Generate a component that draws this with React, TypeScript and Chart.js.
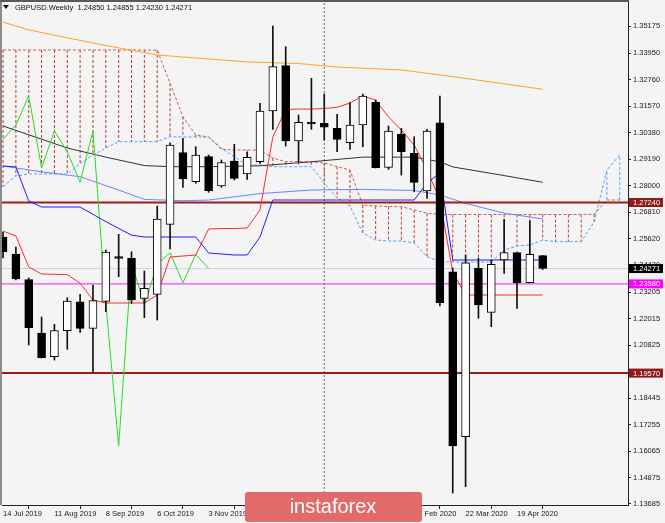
import React, { useEffect, useRef } from 'react';
import { Chart, registerables } from 'chart.js';

Chart.register(...registerables);

const TITLE = 'GBPUSD.Weekly  1.24850 1.24855 1.24230 1.24271';
const LOGO_TEXT = 'instaforex';

const xTickIdx = [0, 4, 8, 12, 16, 20, 24, 28, 32, 36, 40];
const xTickLabels = ['14 Jul 2019', '11 Aug 2019', '8 Sep 2019', '6 Oct 2019', '3 Nov 2019', '1 Dec 2019', '29 Dec 2019', '26 Jan 2020', '23 Feb 2020', '22 Mar 2020', '19 Apr 2020'];
const yTickLabels = ['1.35175', '1.33950', '1.32760', '1.31570', '1.30380', '1.29190', '1.28000', '1.26810', '1.25620', '1.24430', '1.23205', '1.22015', '1.20825', '1.19635', '1.18445', '1.17255', '1.16065', '1.14875', '1.13685'];

const opens = [1.25688, 1.24924, 1.23778, 1.21372, 1.20307, 1.21476, 1.22779, 1.21584, 1.22797, 1.24744, 1.24731, 1.22932, 1.23112, 1.26259, 1.29479, 1.28175, 1.29299, 1.27981, 1.29105, 1.28521, 1.29074, 1.31353, 1.33390, 1.30005, 1.30845, 1.30800, 1.30575, 1.29928, 1.30724, 1.31745, 1.28822, 1.30319, 1.29452, 1.27757, 1.30827, 1.24128, 1.16710, 1.24281, 1.22303, 1.24654, 1.24983, 1.23634, 1.24850];
const highs = [1.25913, 1.25239, 1.23845, 1.22092, 1.21763, 1.22959, 1.23112, 1.23530, 1.25104, 1.25810, 1.25028, 1.24160, 1.27082, 1.29928, 1.30126, 1.29748, 1.29375, 1.29150, 1.29856, 1.29497, 1.31700, 1.35175, 1.34244, 1.31174, 1.32824, 1.32118, 1.31205, 1.31727, 1.32118, 1.31848, 1.30679, 1.30575, 1.30198, 1.30531, 1.32028, 1.24295, 1.24879, 1.24731, 1.24654, 1.26484, 1.25014, 1.26421, 1.24855];
const lows = [1.24744, 1.23755, 1.20833, 1.20249, 1.20158, 1.20639, 1.21404, 1.19605, 1.22330, 1.23904, 1.22708, 1.22060, 1.21957, 1.25149, 1.27923, 1.28103, 1.27698, 1.27923, 1.28251, 1.28283, 1.29002, 1.30531, 1.29780, 1.29074, 1.30531, 1.30050, 1.29524, 1.29631, 1.29748, 1.28791, 1.28732, 1.28476, 1.27725, 1.27428, 1.22586, 1.14179, 1.14462, 1.22033, 1.21655, 1.24056, 1.22483, 1.23620, 1.24230];
const closes = [1.25014, 1.23800, 1.21611, 1.20262, 1.21476, 1.22811, 1.21584, 1.22825, 1.25014, 1.24722, 1.22856, 1.23382, 1.26498, 1.29825, 1.28296, 1.29375, 1.27770, 1.29029, 1.28328, 1.29272, 1.31353, 1.33345, 1.30005, 1.30845, 1.30769, 1.30621, 1.30081, 1.30724, 1.32028, 1.28804, 1.30454, 1.29524, 1.28148, 1.30454, 1.22735, 1.16292, 1.24533, 1.22631, 1.24461, 1.24983, 1.23634, 1.24911, 1.24271];

const tenkan = [1.25958, 1.25733, 1.24340, 1.24025, 1.24010, 1.23996, 1.23610, 1.22856, 1.22721, 1.22721, 1.22721, 1.22721, 1.23081, 1.24789, 1.24834, 1.24879, 1.26048, 1.26070, 1.26070, 1.26093, 1.26902, 1.30185, 1.31421, 1.31440, 1.31440, 1.31466, 1.31520, 1.31713, 1.32028, 1.31848, 1.31084, 1.30499, 1.29825, 1.28701, 1.27352, 1.24115, 1.23081, 1.23081, 1.23081, 1.23081, 1.23081, 1.23081, 1.23081];
const kijun = [1.28881, 1.28836, 1.27307, 1.27037, 1.27037, 1.27037, 1.27037, 1.26709, 1.26381, 1.26075, 1.25770, 1.25689, 1.25689, 1.25689, 1.25689, 1.25689, 1.24970, 1.24925, 1.24880, 1.24880, 1.25689, 1.27352, 1.27352, 1.27352, 1.27352, 1.27352, 1.27352, 1.27352, 1.27352, 1.27352, 1.27352, 1.27352, 1.27352, 1.28117, 1.28566, 1.24655, 1.24655, 1.24655, 1.24655, 1.24655, 1.24655, 1.24655, 1.24655];
// cloud boundaries (shifted 26 weeks ahead, up to index 48)
const senkouA = [1.27950, 1.28431, 1.28521, 1.28521, 1.28521, 1.28521, 1.29002, 1.29375, 1.29690, 1.29973, 1.29973, 1.29973, 1.29973, 1.30198, 1.30185, 1.30185, 1.30185, 1.29677, 1.29299, 1.28926, 1.28926, 1.28849, 1.28849, 1.28849, 1.28849, 1.28117, 1.27442, 1.27083, 1.25869, 1.25554, 1.25509, 1.25509, 1.25419, 1.24803, 1.24578, 1.24565, 1.24565, 1.24565, 1.24565, 1.25104, 1.25284, 1.25329, 1.25554, 1.25478, 1.25478, 1.25478, 1.26363, 1.28701, 1.29375];
const senkouB = [1.34096, 1.34096, 1.34096, 1.34096, 1.34096, 1.34096, 1.34096, 1.34096, 1.34096, 1.34096, 1.34096, 1.34096, 1.34096, 1.32599, 1.31097, 1.30275, 1.30185, 1.29632, 1.29600, 1.29600, 1.29600, 1.29241, 1.29074, 1.29074, 1.29074, 1.29016, 1.28849, 1.28701, 1.27128, 1.27083, 1.27060, 1.27051, 1.26903, 1.26754, 1.26700, 1.26700, 1.26700, 1.26700, 1.26700, 1.26700, 1.26700, 1.26700, 1.26700, 1.26700, 1.26700, 1.26700, 1.26709, 1.27352, 1.27352];
const chikouShift = 26;

// moving averages: [week index, value]
const maFast = [[0, 1.2888], [3, 1.2862], [6, 1.2840], [9, 1.2780], [11, 1.2738], [14, 1.2732], [16, 1.2735], [20, 1.2764], [24, 1.2780], [28, 1.2783], [32, 1.2778], [34, 1.2758], [36, 1.2720], [39, 1.2676], [42, 1.2650]];
const maMid = [[0, 1.3068], [5, 1.2969], [8, 1.2928], [11, 1.2890], [13, 1.2885], [16, 1.2885], [20, 1.2889], [24, 1.2907], [28, 1.2928], [32, 1.2928], [34, 1.2907], [35, 1.2884], [39, 1.2845], [42, 1.2815]];
const maSlow = [[0, 1.3535], [2, 1.3500], [7, 1.3441], [12, 1.3387], [19, 1.3356], [23, 1.3349], [26, 1.3333], [31, 1.3320], [35, 1.3290], [42, 1.3233]];

const levelUpper = 1.2724;
const levelLower = 1.1957;
const levelMagenta = 1.2358;
const bidPrice = 1.24271;
const separatorIdx = 25;

const X_MIN = -0.08;
const X_MAX = 48.64;
const Y_MIN = 1.1364;
const Y_MAX = 1.36254;

const FONT = '"Liberation Sans", Arial, sans-serif';

const priceBoxes = [
  { value: levelUpper, bg: '#8e1a1a', fg: '#ffffff' },
  { value: bidPrice, bg: '#000000', fg: '#ffffff' },
  { value: levelMagenta, bg: '#ff00ff', fg: '#ffffff' },
  { value: levelLower, bg: '#8e1a1a', fg: '#ffffff' },
];

const line = (data: any[], color: string, width = 1, dash: number[] = [], order = 5) => ({
  type: 'line',
  data,
  borderColor: color,
  borderWidth: width,
  borderDash: dash,
  pointRadius: 0,
  fill: false,
  tension: 0,
  spanGaps: false,
  order,
});

const hLine = (v: number, color: string, width: number, order = 6) =>
  line([{ x: -1, y: v }, { x: 50, y: v }], color, width, [], order);

const overlayPlugin = {
  id: 'mtOverlay',
  beforeDraw(chart: any) {
    const { ctx, width, height } = chart;
    ctx.save();
    ctx.fillStyle = '#f4f4f4';
    ctx.fillRect(0, 0, width, height);
    ctx.restore();
  },
  afterDraw(chart: any) {
    const { ctx, chartArea: ca, scales } = chart;
    const y = scales.y;
    ctx.save();
    // frame
    ctx.fillStyle = '#8a8a8a';
    ctx.fillRect(0, 0, 2, ca.bottom);
    ctx.fillStyle = '#5a5a5a';
    ctx.fillRect(0, 0, ca.right + 1, 2);
    // title
    ctx.fillStyle = '#111';
    ctx.beginPath();
    ctx.moveTo(3, 5);
    ctx.lineTo(9, 5);
    ctx.lineTo(6, 9);
    ctx.closePath();
    ctx.fill();
    ctx.font = `7.5px ${FONT}`;
    ctx.textBaseline = 'middle';
    ctx.textAlign = 'left';
    ctx.fillText(TITLE, 15, 7.5);
    // price boxes
    for (const b of priceBoxes) {
      const py = y.getPixelForValue(b.value);
      ctx.fillStyle = b.bg;
      ctx.fillRect(ca.right + 1, py - 4.5, 34, 9);
      ctx.fillStyle = b.fg;
      ctx.fillText(b.value.toFixed(5), ca.right + 5, py + 0.5);
    }
    // logo
    ctx.fillStyle = '#e26a6a';
    ctx.beginPath();
    if ((ctx as any).roundRect) (ctx as any).roundRect(245, 492, 177, 30, 3);
    else ctx.rect(245, 492, 177, 30);
    ctx.fill();
    ctx.fillStyle = '#ffffff';
    ctx.font = `20px ${FONT}`;
    ctx.textAlign = 'center';
    ctx.textBaseline = 'alphabetic';
    ctx.fillText(LOGO_TEXT, 333, 513);
    ctx.restore();
  },
};

export default function App() {
  const ref = useRef<HTMLCanvasElement>(null);

  useEffect(() => {
    if (!ref.current) return;

    const hatchRed: any[] = [];
    const hatchBlue: any[] = [];
    senkouA.forEach((a, i) => {
      const b = senkouB[i];
      if (Math.abs(a - b) < 1e-6) return;
      const target = b > a ? hatchRed : hatchBlue;
      target.push({ x: i, y: b }, { x: i, y: a }, { x: i, y: null });
    });

    const toPts = (arr: number[]) => arr.map((v, i) => ({ x: i, y: v }));
    const pairPts = (arr: number[][]) => arr.map(([i, v]) => ({ x: i, y: v }));

    const datasets: any[] = [
      // candle bodies on top
      {
        type: 'bar',
        data: opens.map((o, i) => ({ x: i, y: [o, closes[i]] })),
        backgroundColor: opens.map((o, i) => (closes[i] >= o ? '#ffffff' : '#000000')),
        borderColor: '#000000',
        borderWidth: 1,
        borderSkipped: false,
        maxBarThickness: 8,
        barThickness: 8,
        minBarLength: 2,
        grouped: false,
        clip: 0,
        order: 1,
      },
      // wicks
      {
        type: 'bar',
        data: lows.map((l, i) => ({ x: i, y: [l, highs[i]] })),
        backgroundColor: '#111111',
        borderWidth: 0,
        maxBarThickness: 1,
        barThickness: 1,
        grouped: false,
        clip: 0,
        order: 2,
      },
      line(hatchRed, '#c23a3a', 1, [3, 2], 9),
      line(hatchBlue, '#55a8ff', 1, [3, 2], 9),
      line(toPts(senkouB), '#c46060', 1, [3, 2], 8),
      line(toPts(senkouA), '#4ea6ff', 1, [3, 2], 8),
      line(pairPts(maSlow), '#ffa51f', 1, [], 7),
      line(pairPts(maMid), '#333333', 1, [], 7),
      line(pairPts(maFast), '#6688ff', 1, [], 7),
      line(toPts(kijun), '#1f1fff', 1, [], 4),
      line(toPts(tenkan), '#ff2a2a', 1, [], 4),
      line(toPts(closes.slice(chikouShift)), '#22e022', 1, [], 4),
      hLine(bidPrice, '#cfd0e6', 1, 10),
      hLine(levelMagenta, '#ee22ee', 1, 6),
      hLine(levelUpper, '#9c1c1c', 2, 6),
      hLine(levelLower, '#9c1c1c', 2, 6),
      line([{ x: separatorIdx, y: Y_MIN }, { x: separatorIdx, y: Y_MAX }], '#666666', 1, [2, 2], 11),
    ];

    const chart = new Chart(ref.current, {
      type: 'line',
      data: { datasets },
      options: {
        responsive: false,
        animation: false,
        devicePixelRatio: 1,
        events: [],
        layout: { padding: { left: 2, top: 2, right: 0, bottom: 0 } },
        plugins: { legend: { display: false }, tooltip: { enabled: false } },
        scales: {
          x: {
            type: 'linear',
            position: 'bottom',
            min: X_MIN,
            max: X_MAX,
            bounds: 'data',
            offset: false,
            afterBuildTicks: (s: any) => {
              s.ticks = xTickIdx.map((v) => ({ value: v }));
            },
            afterFit: (s: any) => {
              s.height = 18;
              s.paddingLeft = 0;
              s.paddingRight = 0;
            },
            ticks: {
              autoSkip: false,
              maxRotation: 0,
              minRotation: 0,
              align: 'start',
              padding: 0,
              color: '#1a1a1a',
              font: { family: FONT, size: 7.5 },
              callback: (v: any) => {
                const k = xTickIdx.indexOf(Number(v));
                return k >= 0 ? xTickLabels[k] : '';
              },
            },
            grid: { drawOnChartArea: false, drawTicks: true, tickLength: 4, color: '#222222' },
            border: { display: true, color: '#222222', width: 1 },
          },
          y: {
            type: 'linear',
            position: 'right',
            min: Y_MIN,
            max: Y_MAX,
            bounds: 'data',
            afterBuildTicks: (s: any) => {
              s.ticks = yTickLabels.map((l) => ({ value: parseFloat(l) }));
            },
            afterFit: (s: any) => {
              s.width = 37;
              s.paddingTop = 0;
              s.paddingBottom = 0;
            },
            ticks: {
              autoSkip: false,
              padding: 2,
              color: '#1a1a1a',
              font: { family: FONT, size: 7.5 },
              callback: (v: any) => {
                const l = yTickLabels.find((t) => Math.abs(parseFloat(t) - Number(v)) < 1e-9);
                return l ?? '';
              },
            },
            grid: { drawOnChartArea: false, drawTicks: true, tickLength: 3, color: '#222222' },
            border: { display: true, color: '#222222', width: 1 },
          },
        },
      } as any,
      plugins: [overlayPlugin],
    } as any);

    return () => chart.destroy();
  }, []);

  return (
    <div style={{ position: 'fixed', left: 0, top: 0, width: 665, height: 523, background: '#f4f4f4' }}>
      <canvas ref={ref} width={665} height={523} style={{ display: 'block', width: 665, height: 523 }} />
    </div>
  );
}
